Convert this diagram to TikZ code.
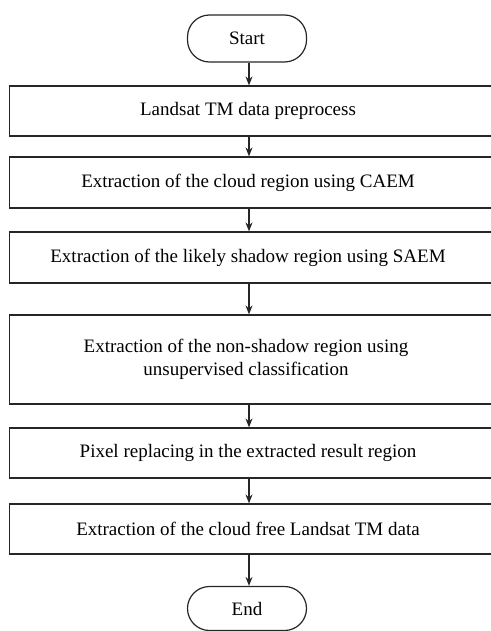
\documentclass[tikz,border=0pt]{standalone}
\usepackage{fontspec}
\setmainfont{Liberation Serif}
\usetikzlibrary{arrows.meta}
\begin{document}
\begin{tikzpicture}[x=1pt,y=-1pt,
  frame/.style={draw=black!85, line width=1.2pt, inner sep=0pt},
  term/.style={frame, rounded corners=22pt, minimum width=119pt, font=\fontsize{19}{23}\selectfont},
  stepbox/.style={frame, minimum width=490.5pt},
  lbl/.style={font=\fontsize{19}{23}\selectfont, align=center, inner sep=0pt},
  arr/.style={-{Stealth[length=9pt,width=7pt]}, line width=1.1pt, draw=black!85}]
\useasboundingbox (0,0) rectangle (490,631);
\node[term, minimum height=47pt] (s) at (247,38.5) {Start};
\node[stepbox, minimum height=50pt] (b1) at (254.75,111) {};
\node[stepbox, minimum height=51pt] (b2) at (254.75,182.5) {};
\node[stepbox, minimum height=51pt] (b3) at (254.75,257.5) {};
\node[stepbox, minimum height=89pt] (b4) at (254.75,359.5) {};
\node[stepbox, minimum height=50pt] (b5) at (254.75,453) {};
\node[stepbox, minimum height=50pt] (b6) at (254.75,529) {};
\node[term, minimum height=44pt] (e) at (247,608.5) {End};
\node[lbl] (t1) at (248,111) {Landsat TM data preprocess};
\node[lbl] (t2) at (248,182.5) {Extraction of the cloud region using CAEM};
\node[lbl] (t3) at (248,257.5) {Extraction of the likely shadow region using SAEM};
\node[lbl] (t4) at (246,359) {Extraction of the non-shadow region using\\unsupervised classification};
\node[lbl] (t5) at (248,453) {Pixel replacing in the extracted result region};
\node[lbl] (t6) at (248,529) {Extraction of the cloud free Landsat TM data};
\coordinate (ax) at (249,0);
\draw[arr] (s.south -| ax) -- (b1.north -| ax);
\draw[arr] (b1.south -| ax) -- (b2.north -| ax);
\draw[arr] (b2.south -| ax) -- (b3.north -| ax);
\draw[arr] (b3.south -| ax) -- (b4.north -| ax);
\draw[arr] (b4.south -| ax) -- (b5.north -| ax);
\draw[arr] (b5.south -| ax) -- (b6.north -| ax);
\draw[arr] (b6.south -| ax) -- (e.north -| ax);
\end{tikzpicture}
\end{document}
